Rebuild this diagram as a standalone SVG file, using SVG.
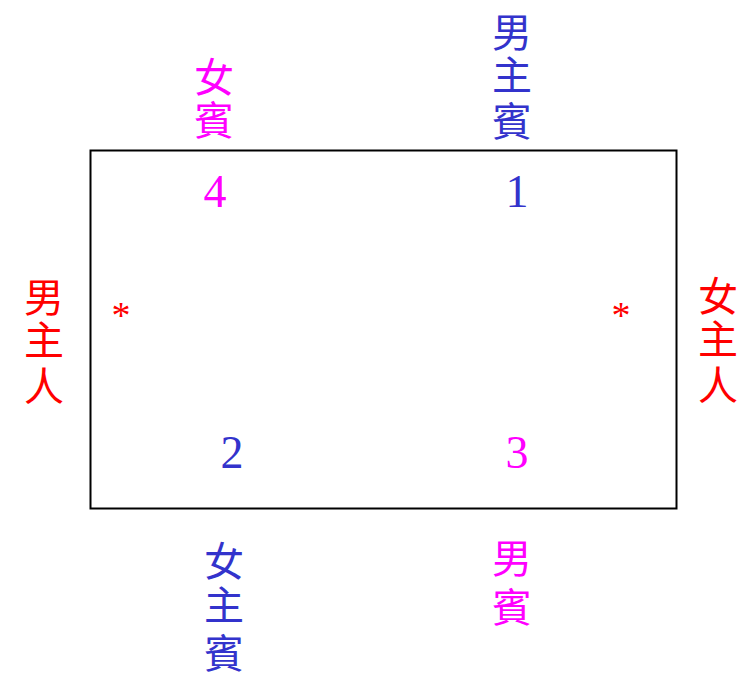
<svg xmlns="http://www.w3.org/2000/svg" width="755" height="679" viewBox="0 0 755 679">
<style>
.cjk{font-family:"Noto Sans CJK TC","Noto Sans CJK SC",sans-serif;font-size:40px;text-anchor:middle}
.num{font-family:"Liberation Serif",serif;font-size:46px;text-anchor:middle}
.ast{font-family:"Liberation Serif",serif;font-size:38px;text-anchor:middle}
.blue{fill:#3333CC}.mag{fill:#FF00FF}.red{fill:#FF0000}
</style>
<rect width="755" height="679" fill="#fff"/>
<g id="table"><rect x="90.500" y="150.500" width="586" height="358" fill="none" stroke="#000" stroke-width="2"/></g>
<g id="connectors"/>
<g id="seat4"><text class="cjk mag" x="214" y="92">女</text><text class="cjk mag" x="214" y="135">賓</text><text class="num mag" x="215" y="207">4</text></g>
<g id="seat1"><text class="cjk blue" x="512" y="47">男</text><text class="cjk blue" x="512" y="90">主</text><text class="cjk blue" x="512" y="136">賓</text><text class="num blue" x="517" y="207">1</text></g>
<g id="host"><text class="cjk red" x="44" y="312">男</text><text class="cjk red" x="44" y="355">主</text><text class="cjk red" x="44" y="401">人</text><text class="ast red" x="121" y="328">*</text></g>
<g id="hostess"><text class="cjk red" x="718" y="311">女</text><text class="cjk red" x="718" y="354">主</text><text class="cjk red" x="718" y="400">人</text><text class="ast red" x="621" y="328">*</text></g>
<g id="seat2"><text class="num blue" x="232" y="468">2</text><text class="cjk blue" x="224" y="576">女</text><text class="cjk blue" x="224" y="620">主</text><text class="cjk blue" x="224" y="668">賓</text></g>
<g id="seat3"><text class="num mag" x="517" y="468">3</text><text class="cjk mag" x="512" y="573">男</text><text class="cjk mag" x="512" y="622">賓</text></g>
</svg>
